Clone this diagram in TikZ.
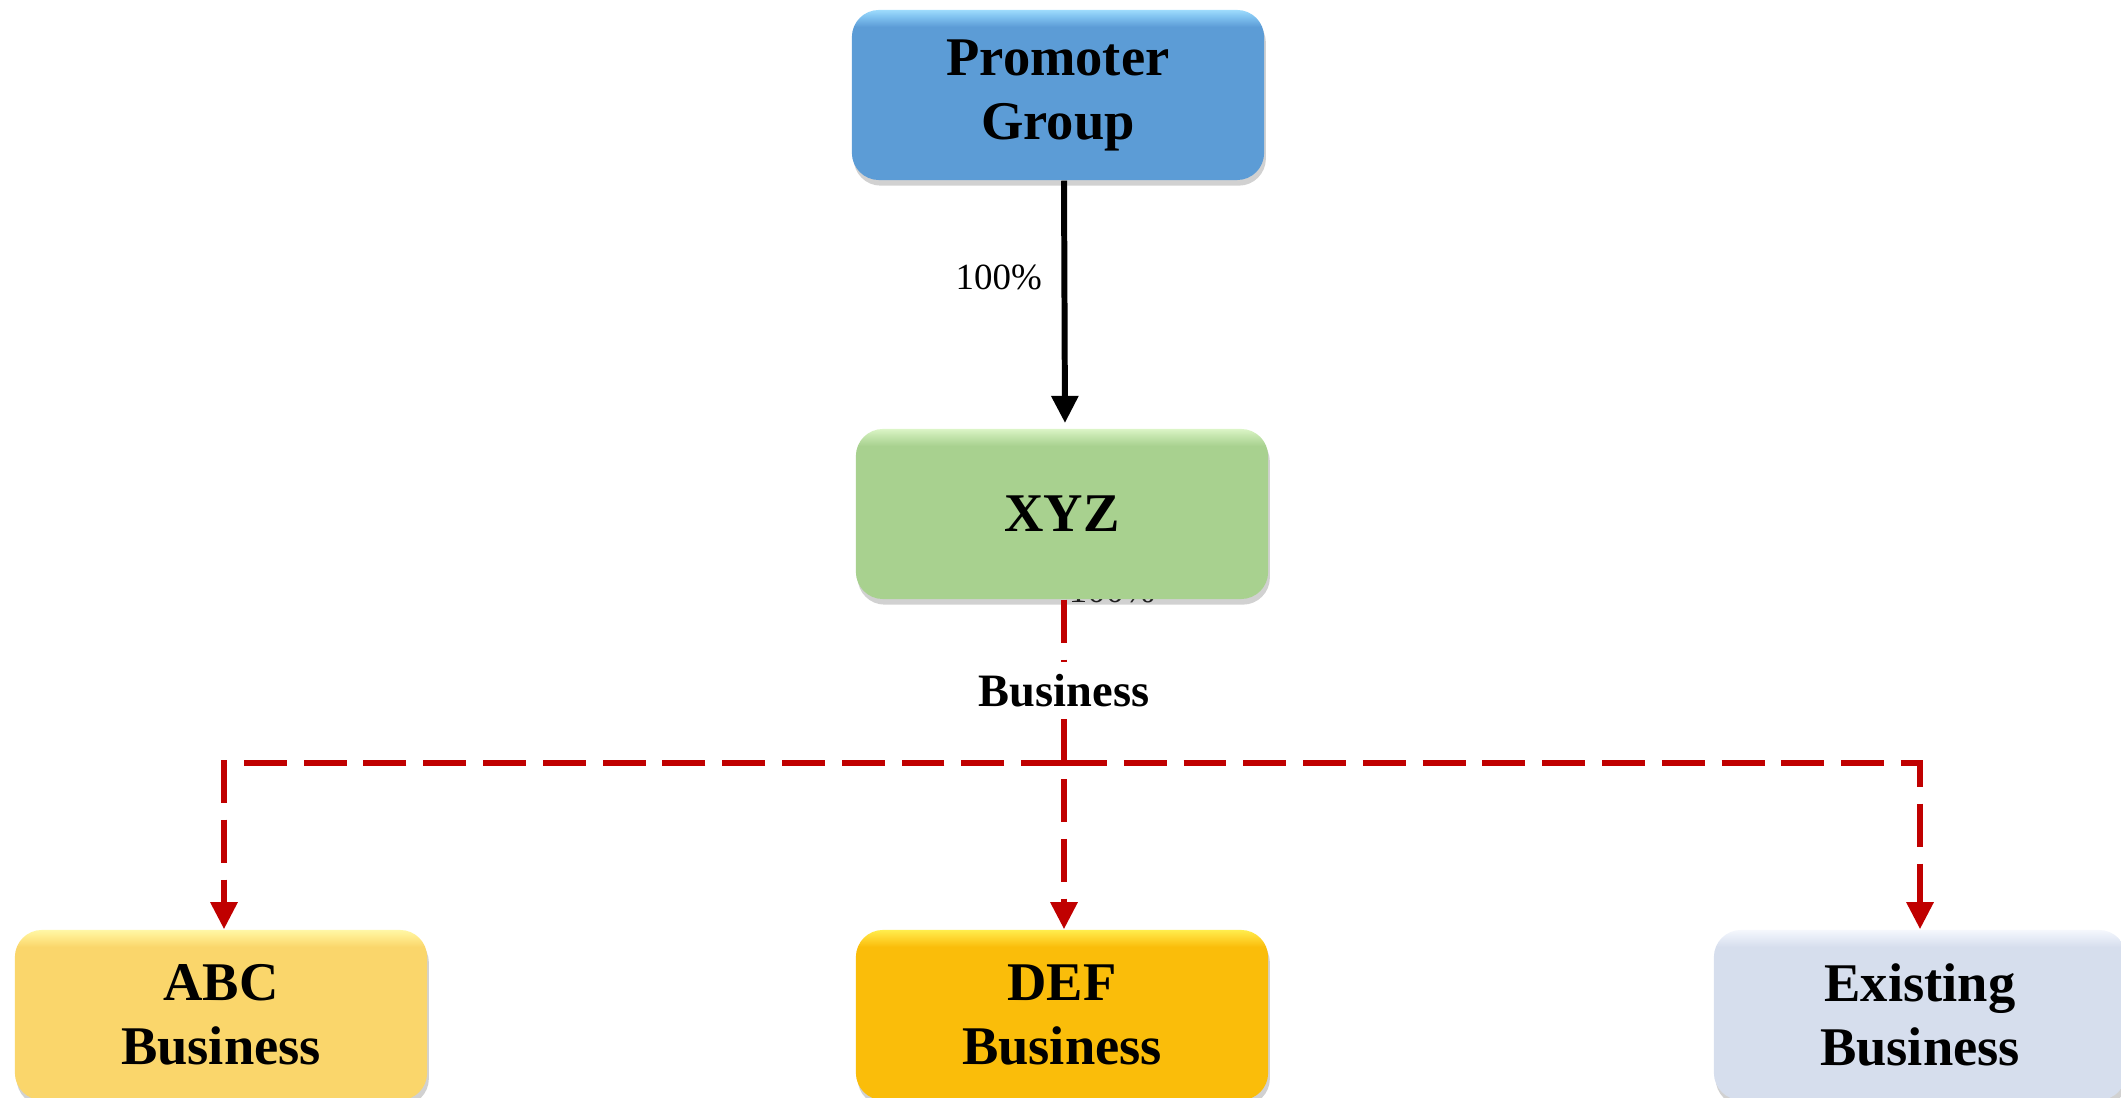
\documentclass[tikz,border=0pt]{standalone}
\usepackage{fontspec}
\setmainfont{Liberation Serif}
\usetikzlibrary{arrows.meta,shadows}

% Bevel-like vertical shadings: flat body with a light band along the top edge
\pgfdeclareverticalshading{blueshade}{100bp}{rgb(0bp)=(0.36,0.61,0.84); rgb(70bp)=(0.36,0.61,0.84); rgb(73bp)=(0.50,0.76,0.94); rgb(75bp)=(0.62,0.86,0.99); rgb(100bp)=(0.62,0.86,0.99)}
\pgfdeclareverticalshading{greenshade}{100bp}{rgb(0bp)=(0.66,0.82,0.56); rgb(70bp)=(0.66,0.82,0.56); rgb(73bp)=(0.77,0.90,0.68); rgb(75bp)=(0.86,0.96,0.78); rgb(100bp)=(0.86,0.96,0.78)}
\pgfdeclareverticalshading{goldshade}{100bp}{rgb(0bp)=(0.98,0.84,0.42); rgb(70bp)=(0.98,0.84,0.42); rgb(73bp)=(1.00,0.92,0.55); rgb(75bp)=(1.00,0.97,0.65); rgb(100bp)=(1.00,0.97,0.65)}
\pgfdeclareverticalshading{ambershade}{100bp}{rgb(0bp)=(0.98,0.74,0.04); rgb(70bp)=(0.98,0.74,0.04); rgb(73bp)=(1.00,0.85,0.20); rgb(75bp)=(1.00,0.93,0.30); rgb(100bp)=(1.00,0.93,0.30)}
\pgfdeclareverticalshading{greyshade}{100bp}{rgb(0bp)=(0.84,0.87,0.93); rgb(70bp)=(0.84,0.87,0.93); rgb(73bp)=(0.91,0.93,0.97); rgb(75bp)=(0.96,0.97,0.99); rgb(100bp)=(0.96,0.97,0.99)}

\definecolor{linkred}{RGB}{192,0,0}

\tikzset{
  entity/.style={rounded corners=7.7pt, minimum width=4.12cm, minimum height=1.70cm,
    align=center, inner sep=0pt, font=\fontsize{15.5}{18.2}\selectfont\bfseries,
    drop shadow={shadow xshift=0.5pt, shadow yshift=-1.6pt, opacity=0.3, fill=black!60}},
  share/.style={font=\fontsize{10.5}{12}\selectfont, inner sep=1pt},
  owns/.style={line width=1.7pt, -{Triangle[width=7.4pt,length=7.7pt]}},
  runs/.style={line width=1.7pt, draw=linkred, dash pattern=on 12.2pt off 4.8pt,
    -{Triangle[width=7.4pt,length=7.7pt]}},
}

\begin{document}
\begin{tikzpicture}[x=0.01cm, y=-0.01cm]
  \clip (0,0) rectangle (2121,1098);

  % ownership share tucked behind the XYZ box
  \node[share] (sharelow) at (1112,590) {100\%};

  % entities
  \node[entity, shading=blueshade]  (prom) at (1058,95)   {Promoter\\Group};
  \node[entity, shading=greenshade] (xyz)  at (1062,514)  {XYZ};
  \node[entity, shading=goldshade]  (abc)  at (221,1015)  {ABC\\Business};
  \node[entity, shading=ambershade] (def)  at (1062,1015) {DEF\\Business};
  \node[entity, shading=greyshade]  (ex)   at (1920,1015) {Existing\\Business};

  % ownership link
  \draw[owns, shorten >=1.5pt] ([xshift=0.06cm]prom.south) -- ([xshift=0.03cm]xyz.north);
  \node[share, anchor=east] (sharetop) at (1046,277) {100\%};

  % business links
  \coordinate (hub) at (1064,763);
  \draw[runs] ([xshift=0.02cm]xyz.south) -- node[pos=0.275, fill=white, inner sep=3.4pt,
      font=\fontsize{13.2}{15}\selectfont\bfseries] (bizlabel) {Business} ([xshift=0.02cm]def.north);
  \draw[runs] (hub) -| ([xshift=0.03cm]abc.north);
  \draw[runs] (hub) -| (ex.north);
\end{tikzpicture}
\end{document}
